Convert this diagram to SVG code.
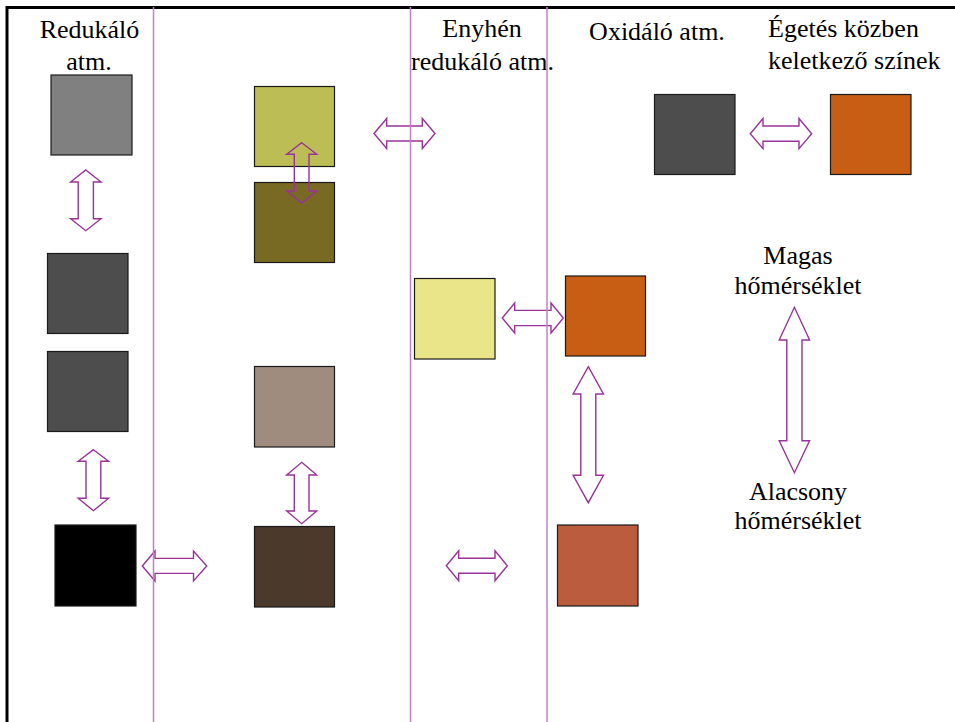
<svg xmlns="http://www.w3.org/2000/svg" width="955" height="722" viewBox="0 0 955 722">
<style>
  .sq { stroke: #1a1a1a; stroke-width: 1.2; }
  .arr { fill: none; stroke: #993399; stroke-width: 1.4; stroke-linejoin: miter; }
  .sep { stroke: #c080c8; stroke-width: 1.5; }
  .frame { stroke: #000; stroke-width: 3; fill: none; }
  text { font-family: "Liberation Serif", "Times New Roman", serif; font-size: 26px; fill: #000; }
</style>
<rect x="0" y="0" width="955" height="722" fill="#fff"/>
<g id="frame">
  <line class="frame" x1="7" y1="7.5" x2="955" y2="7.5"/>
  <line class="frame" x1="7" y1="6" x2="7" y2="722"/>
</g>
<g id="labels">
  <g id="lbl-redukalo"><text x="89.5" y="38" text-anchor="middle">Redukáló</text><text x="89" y="70" text-anchor="middle">atm.</text></g>
  <g id="lbl-enyhen"><text x="482" y="37" text-anchor="middle">Enyhén</text><text x="482.5" y="70" text-anchor="middle">redukáló atm.</text></g>
  <g id="lbl-oxidalo"><text x="657" y="40" text-anchor="middle">Oxidáló atm.</text></g>
  <g id="lbl-egetes"><text x="768" y="37">Égetés közben</text><text x="768" y="68.5">keletkező színek</text></g>
  <g id="lbl-magas"><text x="798" y="263.5" text-anchor="middle">Magas</text><text x="798" y="294" text-anchor="middle">hőmérséklet</text></g>
  <g id="lbl-alacsony"><text x="798" y="499.5" text-anchor="middle">Alacsony</text><text x="798" y="528.5" text-anchor="middle">hőmérséklet</text></g>
</g>
<g id="sq-gray"><rect class="sq" x="51" y="75" width="81" height="80" fill="#808080"/></g>
<g id="sq-darkgray1"><rect class="sq" x="47.5" y="253.5" width="80.5" height="80" fill="#4d4d4d"/></g>
<g id="sq-darkgray2"><rect class="sq" x="47.5" y="351.5" width="80.5" height="80" fill="#4d4d4d"/></g>
<g id="sq-black"><rect class="sq" x="55" y="525" width="81" height="81" fill="#000"/></g>
<g id="sq-olive-light"><rect class="sq" x="254.5" y="86.5" width="80" height="80" fill="#bdbd55"/></g>
<g id="sq-olive-dark"><rect class="sq" x="254.5" y="182.5" width="80" height="80" fill="#786a22"/></g>
<g id="sq-taupe"><rect class="sq" x="254.5" y="366.5" width="80" height="80.5" fill="#9f8c7f"/></g>
<g id="sq-brown"><rect class="sq" x="254.5" y="526.5" width="80" height="80.5" fill="#4b392c"/></g>
<g id="sq-yellow"><rect class="sq" x="414.5" y="278.5" width="80.5" height="80.5" fill="#ebe58a"/></g>
<g id="sq-orange"><rect class="sq" x="565.5" y="276" width="80" height="80" fill="#c85e14"/></g>
<g id="sq-rust"><rect class="sq" x="557.5" y="525" width="80.5" height="81" fill="#bb5c3e"/></g>
<g id="sq-darkgray-top"><rect class="sq" x="654.5" y="94.5" width="80.5" height="80" fill="#4d4d4d"/></g>
<g id="sq-orange-top"><rect class="sq" x="830.5" y="94.5" width="80.5" height="80" fill="#c85e14"/></g>
<g id="connectors">
  <!-- horizontal double arrows -->
  <path class="arr" d="M374,133.5 L386.7,118.5 L386.7,126 L422.3,126 L422.3,118.5 L435,133.5 L422.3,148.5 L422.3,141 L386.7,141 L386.7,148.5 Z"/>
  <path class="arr" d="M502.3,318 L514.7,303 L514.7,310.4 L551,310.4 L551,303 L563.3,318 L551,333 L551,325.6 L514.7,325.6 L514.7,333 Z"/>
  <path class="arr" d="M750.3,133.7 L763,118.5 L763,126 L799,126 L799,118.5 L811.7,133.7 L799,148.7 L799,141.3 L763,141.3 L763,148.7 Z"/>
  <path class="arr" d="M142.3,566 L155,551 L155,558.4 L193.5,558.4 L193.5,551 L206.7,566 L193.5,581 L193.5,573.4 L155,573.4 L155,581 Z"/>
  <path class="arr" d="M446.3,565.8 L458.7,550.8 L458.7,558.3 L495,558.3 L495,550.8 L507.3,565.8 L495,580.8 L495,573.3 L458.7,573.3 L458.7,580.8 Z"/>
  <!-- vertical double arrows -->
  <path class="arr" d="M85.8,170 L101,182 L93.4,182 L93.4,218.7 L101,218.7 L85.8,230.7 L70.6,218.7 L78.2,218.7 L78.2,182 L70.6,182 Z"/>
  <path class="arr" d="M301.7,142.7 L316.7,154.3 L309,154.3 L309,191 L316.7,191 L301.7,203 L286.7,191 L294.3,191 L294.3,154.3 L286.7,154.3 Z"/>
  <path class="arr" d="M93.4,449.7 L108.6,461.3 L100.8,461.3 L100.8,498.3 L108.6,498.3 L93.4,510.7 L78.2,498.3 L86,498.3 L86,461.3 L78.2,461.3 Z"/>
  <path class="arr" d="M301.7,462.3 L316.7,475 L309,475 L309,511 L316.7,511 L301.7,523.7 L286.7,511 L294.3,511 L294.3,475 L286.7,475 Z"/>
  <path class="arr" d="M588.3,366.7 L603.5,394 L595.8,394 L595.8,475.3 L603.5,475.3 L588.3,502.7 L573.1,475.3 L580.8,475.3 L580.8,394 L573.1,394 Z"/>
  <path class="arr" d="M794.4,307.3 L809.6,340 L802,340 L802,440.7 L809.6,440.7 L794.4,472.7 L779.2,440.7 L786.8,440.7 L786.8,340 L779.2,340 Z"/>
</g>
<g id="separators">
  <line class="sep" x1="153.5" y1="7" x2="153.5" y2="722"/>
  <line class="sep" x1="410.5" y1="7" x2="410.5" y2="722"/>
  <line class="sep" x1="547" y1="7" x2="547" y2="722"/>
</g>
</svg>
